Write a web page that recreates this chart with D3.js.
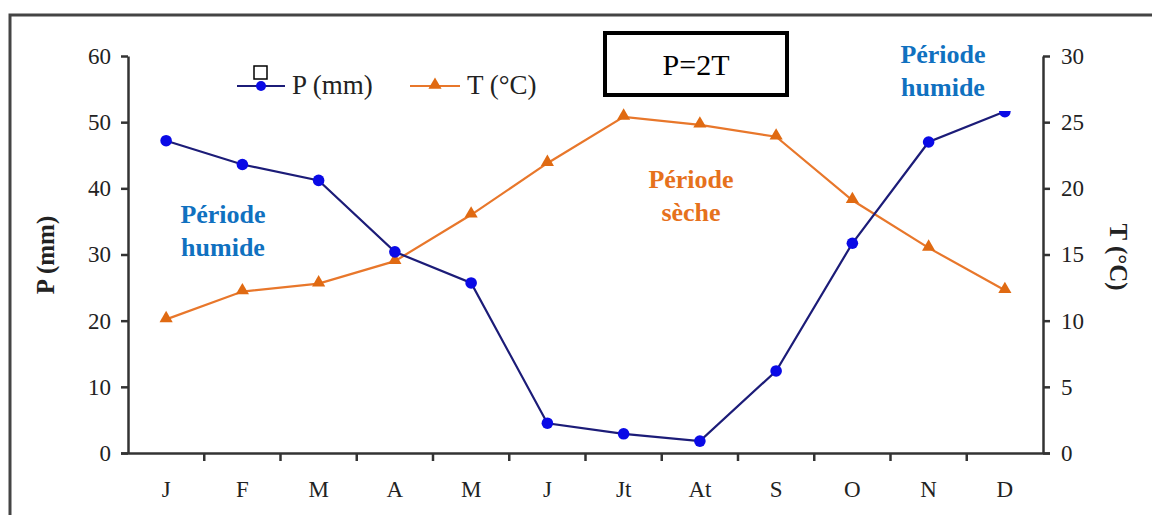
<!DOCTYPE html>
<html>
<head>
<meta charset="utf-8">
<script src="https://cdn.jsdelivr.net/npm/d3@7"></script>
<style>
  body { margin: 0; background: #fff; }
  svg { display: block; font-family: "Liberation Serif", "Times New Roman", serif; }
</style>
</head>
<body>
<script>
'use strict';

// months and monthly values
const months = ["J", "F", "M", "A", "M", "J", "Jt", "At", "S", "O", "N", "D"];
const precip = [47.2, 43.6, 41.2, 30.4, 25.7, 4.5, 2.9, 1.8, 12.4, 31.7, 47.0, 51.6];
const temp = [10.1, 12.2, 12.8, 14.5, 18.0, 21.9, 25.4, 24.8, 23.9, 19.1, 15.5, 12.3];
const pTicks = [0, 10, 20, 30, 40, 50, 60];
const tTicks = [0, 5, 10, 15, 20, 25, 30];

(function() {

  const W = 1152, H = 515;
  const mLeft = 128, mRight = 1043, mTop = 56, mBottom = 453;
  const blueLine = "#1c1c78", blueDot = "#0a0ae6";
  const orange = "#e8772b";
  const serif = "Liberation Serif, serif";

  const svg = d3.select("body").append("svg")
    .attr("width", W)
    .attr("height", H);

  // outer frame (only top and left edges are visible)
  svg.append("path")
    .attr("d", "M10,515 V15 H1152")
    .attr("fill", "none")
    .attr("stroke", "#444")
    .attr("stroke-width", 3);

  // scales
  const x = d3.scaleBand().domain(d3.range(months.length)).range([mLeft, mRight]);
  const yP = d3.scaleLinear().domain([0, 60]).range([mBottom, mTop]);
  const yT = d3.scaleLinear().domain([0, 30]).range([mBottom, mTop]);
  const cx = (i) => x(i) + x.bandwidth() / 2;

  // axes
  function styleAxis(g) {
    g.attr("font-family", serif).attr("font-size", 23);
    g.selectAll("path, line").attr("stroke", "#333").attr("stroke-width", 2.5);
    g.selectAll("text").attr("fill", "#222");
  }

  svg.append("g")
    .attr("transform", `translate(0,${mBottom})`)
    .call(d3.axisBottom(x).tickFormat((i) => months[i]).tickSize(0).tickPadding(28))
    .call(styleAxis)
    .call((g) => g.select(".domain").attr("d", `M${mLeft - 7},0.5H${mRight + 7}`));

  // x ticks sit on the band edges
  svg.append("g")
    .selectAll("line")
    .data(d3.range(1, months.length))
    .enter()
    .append("line")
      .attr("x1", (i) => x(i)).attr("x2", (i) => x(i))
      .attr("y1", mBottom).attr("y2", mBottom + 8)
      .attr("stroke", "#333").attr("stroke-width", 2.5);

  svg.append("g")
    .attr("transform", `translate(${mLeft},0)`)
    .call(d3.axisLeft(yP).tickValues(pTicks).tickSize(7).tickPadding(10).tickSizeOuter(0))
    .call(styleAxis);

  svg.append("g")
    .attr("transform", `translate(${mRight},0)`)
    .call(d3.axisRight(yT).tickValues(tTicks).tickSize(7).tickPadding(11).tickSizeOuter(0))
    .call(styleAxis);

  // axis titles
  svg.append("text")
    .attr("transform", "translate(54, 255)rotate(-90)")
    .attr("text-anchor", "middle")
    .attr("font-size", 25)
    .attr("font-weight", "bold")
    .attr("fill", "#222")
    .text("P (mm)");

  svg.append("text")
    .attr("transform", "translate(1110, 257)rotate(90)")
    .attr("text-anchor", "middle")
    .attr("font-size", 25)
    .attr("font-weight", "bold")
    .attr("fill", "#222")
    .text("T (°C)");

  // temperature series
  const tLine = d3.line().x((d, i) => cx(i)).y((d) => yT(d));
  svg.append("path")
    .datum(temp)
    .attr("d", tLine)
    .attr("fill", "none")
    .attr("stroke", orange)
    .attr("stroke-width", 2.2);

  const tri = d3.symbol().type(d3.symbolTriangle).size(75);
  svg.selectAll(".tri")
    .data(temp)
    .enter()
    .append("path")
      .attr("class", "tri")
      .attr("d", tri)
      .attr("transform", (d, i) => `translate(${cx(i)},${yT(d) - 1})`)
      .attr("fill", "#e06a12");

  // precipitation series
  const pLine = d3.line().x((d, i) => cx(i)).y((d) => yP(d));
  svg.append("path")
    .datum(precip)
    .attr("d", pLine)
    .attr("fill", "none")
    .attr("stroke", blueLine)
    .attr("stroke-width", 2.2);

  svg.selectAll(".dot")
    .data(precip)
    .enter()
    .append("circle")
      .attr("class", "dot")
      .attr("cx", (d, i) => cx(i))
      .attr("cy", (d) => yP(d))
      .attr("r", 5.8)
      .attr("fill", blueDot);

  // legend
  const leg = svg.append("g");
  leg.append("line").attr("x1", 237).attr("x2", 285).attr("y1", 86).attr("y2", 86)
    .attr("stroke", blueLine).attr("stroke-width", 2.2);
  leg.append("circle").attr("cx", 261).attr("cy", 86).attr("r", 5).attr("fill", blueDot);
  leg.append("rect").attr("x", 254).attr("y", 66).attr("width", 13).attr("height", 13)
    .attr("fill", "#fff").attr("stroke", "#000").attr("stroke-width", 1.5);
  leg.append("text").attr("x", 292).attr("y", 94).attr("font-size", 27).attr("fill", "#222")
    .text("P (mm)");

  leg.append("line").attr("x1", 410).attr("x2", 460).attr("y1", 86).attr("y2", 86)
    .attr("stroke", orange).attr("stroke-width", 2.2);
  leg.append("path").attr("d", tri).attr("transform", "translate(435,85)").attr("fill", "#e06a12");
  leg.append("text").attr("x", 467).attr("y", 94).attr("font-size", 27).attr("fill", "#222")
    .text("T (°C)");

  // P=2T box
  svg.append("rect")
    .attr("x", 605).attr("y", 33).attr("width", 182).attr("height", 62)
    .attr("fill", "#fff").attr("stroke", "#000").attr("stroke-width", 4);
  svg.append("text")
    .attr("x", 696).attr("y", 75)
    .attr("text-anchor", "middle")
    .attr("font-size", 30)
    .attr("fill", "#000")
    .text("P=2T");

  // period annotations
  function note(xc, y1, color, lines, bg) {
    const g = svg.append("g");
    if (bg) {
      g.append("rect").attr("x", bg[0]).attr("y", bg[1]).attr("width", bg[2]).attr("height", bg[3])
        .attr("fill", "#fff");
    }
    lines.forEach((t, k) => {
      g.append("text")
        .attr("x", xc).attr("y", y1 + k * 33)
        .attr("text-anchor", "middle")
        .attr("font-size", 26)
        .attr("font-weight", "bold")
        .attr("fill", color)
        .text(t);
    });
  }

  note(223, 223, "#1071c0", ["Période", "humide"]);
  note(691, 188, "#e6711c", ["Période", "sèche"]);
  note(943, 63, "#1071c0", ["Période", "humide"], [888, 32, 124, 79]);

})();
</script>
</body>
</html>
